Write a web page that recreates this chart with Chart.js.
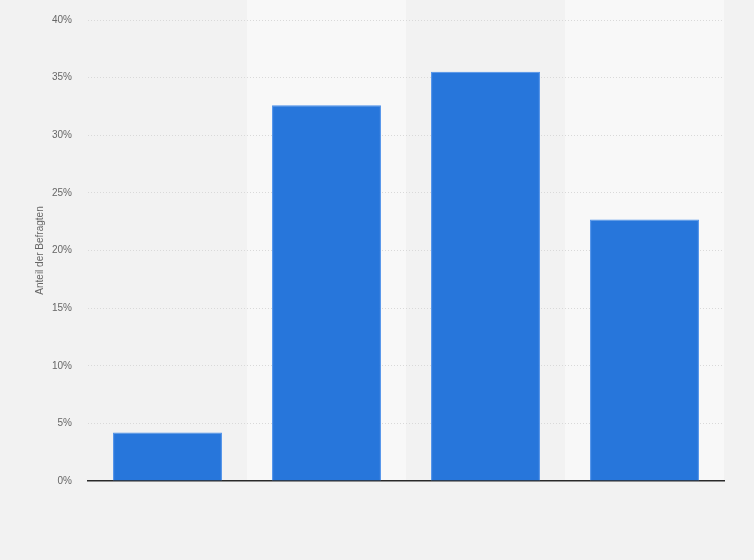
<!DOCTYPE html>
<html>
<head>
<meta charset="utf-8">
<script src="https://cdn.jsdelivr.net/npm/chart.js@4/dist/chart.umd.min.js"></script>
<style>
  html, body { margin: 0; padding: 0; background: #f2f2f2; }
  #wrap { width: 754px; height: 560px; position: relative; }
</style>
</head>
<body>
<div id="wrap"><canvas id="chart"></canvas></div>
<script>
// values (percent of respondents)
const categories = ["1", "2", "3", "4"];
const shares = [4.2, 32.6, 35.5, 22.7];
const yTicks = [0, 5, 10, 15, 20, 25, 30, 35, 40];
const yTitle = "Anteil der Befragten";

const FONT = "'Liberation Sans', Arial, sans-serif";

// light stripes behind every second category, from top to the axis
const stripes = {
  id: "stripes",
  beforeDraw(chart) {
    const { ctx, chartArea, scales } = chart;
    const x = scales.x;
    ctx.save();
    ctx.fillStyle = "#f8f8f8";
    categories.forEach((c, i) => {
      if (i % 2 === 1) {
        const w = x.width / categories.length;
        const left = x.getPixelForValue(i) - w / 2;
        ctx.fillRect(left, 0, w, chartArea.bottom);
      }
    });
    ctx.restore();
  }
};

new Chart(document.getElementById("chart"), {
  type: "bar",
  data: {
    labels: categories,
    datasets: [{
      data: shares,
      backgroundColor: "#2776db",
      borderColor: "#4a8fea",
      borderWidth: 1,
      categoryPercentage: 1,
      barPercentage: 0.685
    }]
  },
  options: {
    responsive: true,
    maintainAspectRatio: false,
    animation: false,
    layout: { padding: { top: 20, right: 30, bottom: 79, left: 0 } },
    plugins: {
      legend: { display: false },
      tooltip: { enabled: false }
    },
    scales: {
      x: {
        ticks: { display: false },
        grid: { display: false, drawTicks: false },
        border: { display: true, color: "#2a2a2a", width: 1.5 },
        afterFit: (s) => { s.height = 0; }
      },
      y: {
        min: 0,
        max: 40,
        afterBuildTicks: (s) => { s.ticks = yTicks.map(v => ({ value: v })); },
        ticks: {
          padding: 4,
          color: "#666666",
          font: { family: FONT, size: 10 },
          callback: (v) => v + "%"
        },
        grid: {
          drawTicks: true,
          tickLength: 12,
          tickColor: "rgba(0,0,0,0)",
          color: (c) => c.tick && c.tick.value === 0 ? "rgba(0,0,0,0)" : "#d9d9d9",
          lineWidth: 1
        },
        border: { display: false, dash: [1, 2] },
        title: {
          display: true,
          text: yTitle,
          color: "#666666",
          font: { family: FONT, size: 10 },
          padding: { top: 34, bottom: 0 }
        },
        afterFit: (s) => { s.width = 88; }
      }
    }
  },
  plugins: [stripes]
});
</script>
</body>
</html>
